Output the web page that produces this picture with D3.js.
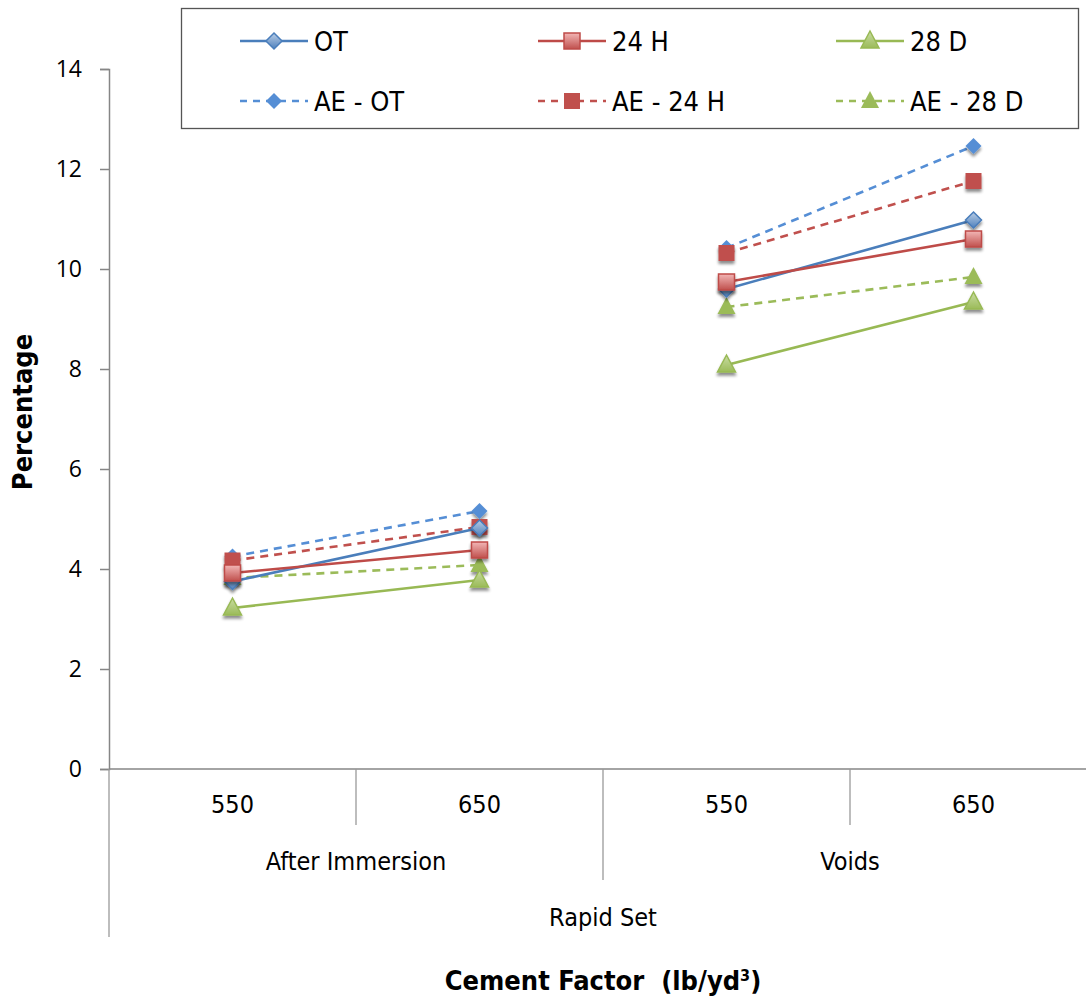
<!DOCTYPE html>
<html><head><meta charset="utf-8">
<script src="https://cdn.jsdelivr.net/npm/d3@7"></script>
<style>
body{margin:0;background:#fff;}
text{font-family:"Liberation Sans Narrow","DejaVu Sans Condensed","Open Sans",sans-serif;fill:#000;}
</style></head><body>
<svg id="c" width="1086" height="999"></svg>
<script>
const groups = ["After Immersion", "Voids"];
const cementFactors = ["550", "650"];
const outerLabel = "Rapid Set";
const yTicks = [0, 2, 4, 6, 8, 10, 12, 14];
const seriesNames = ["OT", "24 H", "28 D", "AE - OT", "AE - 24 H", "AE - 28 D"];
// values per [AI-550, AI-650, V-550, V-650]
const OT      = [3.75, 4.82, 9.6, 10.98];
const H24     = [3.92, 4.38, 9.74, 10.6];
const D28     = [3.22, 3.78, 8.08, 9.34];
const AE_OT   = [4.25, 5.16, 10.42, 12.46];
const AE_H24  = [4.17, 4.84, 10.32, 11.76];
const AE_D28  = [3.82, 4.08, 9.24, 9.84];

const seriesValues = [OT, H24, D28, AE_OT, AE_H24, AE_D28];
const styles = [
  {color:"#4a7ebb", fill:"#4f81bd", light:"#b9cde5", shape:"diamond", dash:null, grad:true},
  {color:"#be4b48", fill:"#c0504d", light:"#f2b6b5", shape:"square", dash:null, grad:true},
  {color:"#98b954", fill:"#9bbb59", light:"#c9dca3", shape:"triangle", dash:null, grad:true},
  {color:"#558ed5", fill:"#558ed5", shape:"diamond", dash:"8,6", grad:false},
  {color:"#c0504d", fill:"#c0504d", shape:"square", dash:"8,6", grad:false},
  {color:"#9bbb59", fill:"#9bbb59", shape:"triangle", dash:"8,6", grad:false}
];

const svg = d3.select("#c");
const defs = svg.append("defs");
const flt = defs.append("filter").attr("id","sh").attr("x","-50%").attr("y","-50%").attr("width","200%").attr("height","200%");
flt.append("feGaussianBlur").attr("in","SourceAlpha").attr("stdDeviation",1.8);
flt.append("feOffset").attr("dx",0).attr("dy",3).attr("result","o");
flt.append("feComponentTransfer").append("feFuncA").attr("type","linear").attr("slope",0.45);
const fm = flt.append("feMerge"); fm.append("feMergeNode"); fm.append("feMergeNode").attr("in","SourceGraphic");
styles.forEach((s,i)=>{
  if(!s.grad) return;
  const g = defs.append("linearGradient").attr("id","g"+i).attr("x1",0).attr("y1",0).attr("x2",0).attr("y2",1);
  g.append("stop").attr("offset","0%").attr("stop-color",s.light);
  g.append("stop").attr("offset","100%").attr("stop-color",s.fill);
});

const leaves = [];
groups.forEach(g=>cementFactors.forEach(c=>leaves.push(g+"|"+c)));
const x = d3.scaleBand().domain(leaves).range([109, 1097]);
const y = d3.scaleLinear().domain([0,14]).range([769, 69]);
const axisColor = "#868686";

// y axis
const ya = svg.append("g").attr("transform","translate(109,0)")
  .call(d3.axisLeft(y).tickValues(yTicks).tickSize(9).tickPadding(18).tickFormat(d3.format("d")));
ya.select(".domain").attr("stroke",axisColor).attr("stroke-width",1.5);
ya.selectAll(".tick line").attr("stroke",axisColor).attr("stroke-width",1.5);
ya.selectAll("text").style("font-size","23px").style("font-family","'Open Sans',sans-serif").attr("fill","#000");

// x axis line
svg.append("line").attr("x1",109).attr("x2",1097).attr("y1",y(0)).attr("y2",y(0)).attr("stroke",axisColor).attr("stroke-width",1.5);
// separators
const sepColor = "#9a9a9a";
svg.append("line").attr("x1",109).attr("x2",109).attr("y1",y(0)).attr("y2",937).attr("stroke",sepColor).attr("stroke-width",1.3);
groups.forEach((g,gi)=>{
  const start = x(g+"|"+cementFactors[0]);
  if(gi>0) svg.append("line").attr("x1",start).attr("x2",start).attr("y1",y(0)).attr("y2",880).attr("stroke",sepColor).attr("stroke-width",1.3);
  cementFactors.forEach((c,ci)=>{
    const xx = x(g+"|"+c);
    if(ci>0) svg.append("line").attr("x1",xx).attr("x2",xx).attr("y1",y(0)).attr("y2",825).attr("stroke",sepColor).attr("stroke-width",1.3);
    svg.append("text").attr("x",xx+x.bandwidth()/2).attr("y",813).attr("text-anchor","middle").style("font-size","25px").text(c);
  });
  const mid = start + x.bandwidth()*cementFactors.length/2;
  svg.append("text").attr("x",mid).attr("y",870).attr("text-anchor","middle").style("font-size","25px").text(g);
});
svg.append("text").attr("x",(109+1097)/2).attr("y",926).attr("text-anchor","middle").style("font-size","25px").text(outerLabel);

// titles
svg.append("text").attr("x",603).attr("y",990).attr("text-anchor","middle").style("font-size","27px").style("font-weight","bold")
  .html('Cement Factor&#160;&#160;(lb/yd<tspan dy="-9" style="font-size:16px">3</tspan><tspan dy="9">)</tspan>');
svg.append("text").attr("transform","translate(32,412) rotate(-90)").attr("text-anchor","middle").style("font-size","27px").style("font-weight","bold").text("Percentage");

function marker(sel, shape, i, s){
  const fill = s.grad ? "url(#g"+i+")" : s.fill;
  const stroke = s.grad ? s.color : "none";
  let p;
  if(shape==="diamond") p = sel.append("path").attr("d","M0,-8L8,0L0,8L-8,0Z");
  else if(shape==="square") p = sel.append("rect").attr("x",-8).attr("y",-8).attr("width",16).attr("height",16);
  else p = sel.append("path").attr("d","M0,-10L9,7L-9,7Z");
  p.attr("fill",fill).attr("stroke",stroke).attr("stroke-width",1.5);
}

const cx = d=>x(d)+x.bandwidth()/2;
const line = d3.line().x(d=>cx(d[0])).y(d=>y(d[1]));
const drawOrder = [3,4,5,0,1,2];
drawOrder.forEach(i=>{
  const s = styles[i];
  const vals = seriesValues[i];
  groups.forEach((g,gi)=>{
    const pts = cementFactors.map((c,ci)=>[g+"|"+c, vals[gi*cementFactors.length+ci]]);
    svg.append("path").datum(pts).attr("d",line).attr("fill","none").attr("stroke",s.color)
      .attr("stroke-width",2.6).attr("stroke-dasharray",s.dash);
    pts.forEach(p=>{
      const gm = svg.append("g").attr("transform",`translate(${cx(p[0])},${y(p[1])})`).attr("filter","url(#sh)");
      marker(gm, s.shape, i, s);
    });
  });
});

// legend
svg.append("rect").attr("x",181.5).attr("y",8.5).attr("width",897).attr("height",120).attr("fill","#fff").attr("stroke","#555").attr("stroke-width",1.3);
const colX = [240, 538, 836];
const rowY = [41, 101];
seriesNames.forEach((n,i)=>{
  const s = styles[i];
  const lx = colX[i%3], ly = rowY[Math.floor(i/3)];
  const g = svg.append("g");
  g.append("line").attr("x1",lx).attr("x2",lx+68).attr("y1",ly).attr("y2",ly).attr("stroke",s.color).attr("stroke-width",2.6).attr("stroke-dasharray",s.dash?"7,6":null);
  const gm = g.append("g").attr("transform",`translate(${lx+34},${ly})`);
  marker(gm, s.shape, i, s);
  g.append("text").attr("x",lx+74).attr("y",ly+10).style("font-size","27px").text(n);
});
</script></body></html>
